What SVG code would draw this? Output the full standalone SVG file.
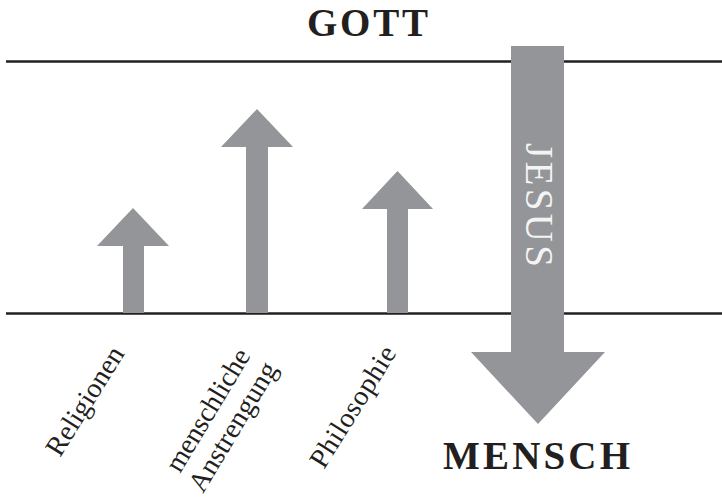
<svg xmlns="http://www.w3.org/2000/svg" width="722" height="502" viewBox="0 0 722 502">
<style>
.line{stroke:#231f20;stroke-width:2.4;fill:none}
.arrow{fill:#939598}
.title{font-family:"Liberation Serif",serif;font-weight:bold;fill:#231f20}
.label{font-family:"Liberation Serif",serif;font-size:28px;fill:#231f20}
.jesus{font-family:"Liberation Serif",serif;font-size:39px;fill:#f4f4f4}
</style>
<rect width="722" height="502" fill="#fff"/>
<g id="connectors">
<line class="line" x1="6" y1="61.5" x2="722" y2="61.5"/>
<line class="line" x1="6" y1="313.5" x2="722" y2="313.5"/>
</g>
<g id="gott"><text class="title" x="307" y="36" font-size="39" textLength="121" lengthAdjust="spacing">GOTT</text></g>
<g id="mensch"><text class="title" x="443" y="469" font-size="39" textLength="187" lengthAdjust="spacing">MENSCH</text></g>
<g id="religionen">
<polygon class="arrow" points="123,313 123,246 97,246 133,208 169,246 144,246 144,313"/>
<text class="label" x="60" y="458" transform="rotate(-58 60 458)" textLength="123" lengthAdjust="spacing">Religionen</text>
</g>
<g id="anstrengung">
<polygon class="arrow" points="246,313 246,147 221,147 257,109 293,147 268,147 268,313"/>
<text class="label" x="180" y="474" transform="rotate(-59 180 474)" textLength="138" lengthAdjust="spacing">menschliche</text>
<text class="label" x="203" y="494" transform="rotate(-59 203 494)" textLength="146" lengthAdjust="spacing">Anstrengung</text>
</g>
<g id="philosophie">
<polygon class="arrow" points="387,313 387,209 362,209 397.5,171 433,209 408,209 408,313"/>
<text class="label" x="324" y="470" transform="rotate(-58 324 470)" textLength="138" lengthAdjust="spacing">Philosophie</text>
</g>
<g id="jesus">
<polygon class="arrow" points="511,46 564,46 564,352 605,352 538,424 471,352 511,352"/>
<text class="jesus" x="143" y="-526" transform="rotate(90)" textLength="124" lengthAdjust="spacing">JESUS</text>
</g>
</svg>
